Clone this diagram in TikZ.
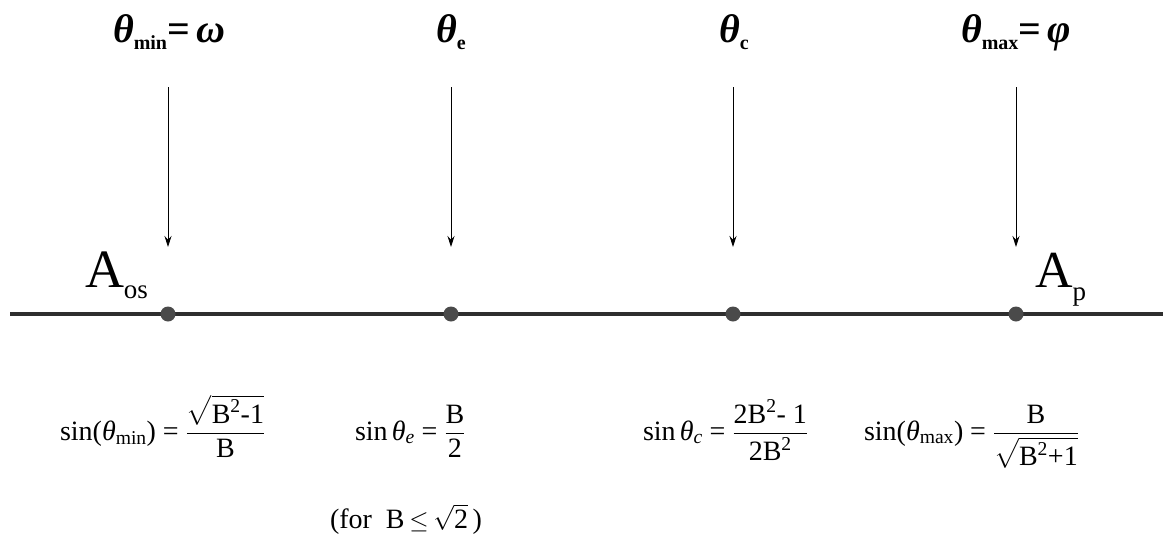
\documentclass[tikz,border=0pt]{standalone}
\usepackage{amsmath}
\usepackage{fontspec}
\setmainfont{Liberation Serif}
\usetikzlibrary{arrows.meta}
\newcommand{\hsz}{\fontsize{40}{40}\selectfont\bfseries}
\newcommand{\hth}{{\hsz\itshape θ}}
\newcommand{\hsub}[1]{\raisebox{-7pt}{\fontsize{20}{20}\selectfont\bfseries #1}}
\newcommand{\fsz}{\fontsize{28}{32}\selectfont}
\newcommand{\thi}{\textit{θ}}
\begin{document}
\begin{tikzpicture}[x=1pt,y=-1pt,
  txt/.style={inner sep=0pt, outer sep=0pt, anchor=base west},
  dotnode/.style={circle, fill=dotgray, inner sep=0pt, minimum size=15pt},
  axisline/.style={line width=3.2pt, draw=axisgray},
  arr/.style={line width=0.9pt, -{Stealth[length=11pt,width=7pt]}}]
\definecolor{dotgray}{HTML}{4A4A4A}
\definecolor{axisgray}{HTML}{2E2E2E}
\useasboundingbox (0,0) rectangle (1163,536);

% axis
\coordinate (L) at (10,314);
\coordinate (R) at (1163,314);
\draw[axisline] (L) -- (R);
\node[dotnode] (d1) at (168,314) {};
\node[dotnode] (d2) at (451,314) {};
\node[dotnode] (d3) at (733,314) {};
\node[dotnode] (d4) at (1016,314) {};

% arrows
\foreach \i/\x in {1/168,2/451,3/733,4/1016}{
  \coordinate (t\i) at (\x,87);
  \coordinate (b\i) at (\x,247);
  \draw[arr] (t\i) -- (b\i);
}

% headers
\node[txt] (h1) at (113,42) {\hth\hsub{min}{\hsz=\,\itshape ω}};
\node[txt] (h2) at (436,42) {\hth\hsub{e}};
\node[txt] (h3) at (719,42) {\hth\hsub{c}};
\node[txt] (h4) at (961,42) {\hth\hsub{max}{\hsz=\,\itshape φ}};

% labels on axis
\node[txt] (aos) at (85,287) {\fontsize{54}{54}\selectfont A\raisebox{-11pt}{\fontsize{27}{27}\selectfont os}};
\node[txt] (ap) at (1035,287) {\fontsize{52}{52}\selectfont A\raisebox{-13pt}{\fontsize{27}{27}\selectfont p}};

% formulas
\node[txt] (f1) at (60,440) {\fsz $\text{sin(}\thi_{\text{min}}\text{)} \mathrel{\text{=}} \dfrac{\sqrt{\text{B}^{\text{2}}\text{-1}}}{\text{B}}$};
\node[txt] (f2) at (355,440) {\fsz $\text{sin}\,\thi_{\textit{e}} \mathrel{\text{=}} \dfrac{\text{B}}{\text{2}}$};
\node[txt] (f3) at (643,440) {\fsz $\text{sin}\,\thi_{\textit{c}} \mathrel{\text{=}} \dfrac{\text{2B}^{\text{2}}\text{- 1}}{\text{2B}^{\text{2}}}$};
\node[txt] (f4) at (864,440) {\fsz $\text{sin(}\thi_{\text{max}}\text{)} \mathrel{\text{=}} \dfrac{\text{B}}{\sqrt{\text{B}^{\text{2}}\text{+1}}}$};
\node[txt] (f5) at (330,528) {\fsz (for\ \ B\,$\leq$\,$\sqrt{\text{2}}$\,)};
\end{tikzpicture}
\end{document}
